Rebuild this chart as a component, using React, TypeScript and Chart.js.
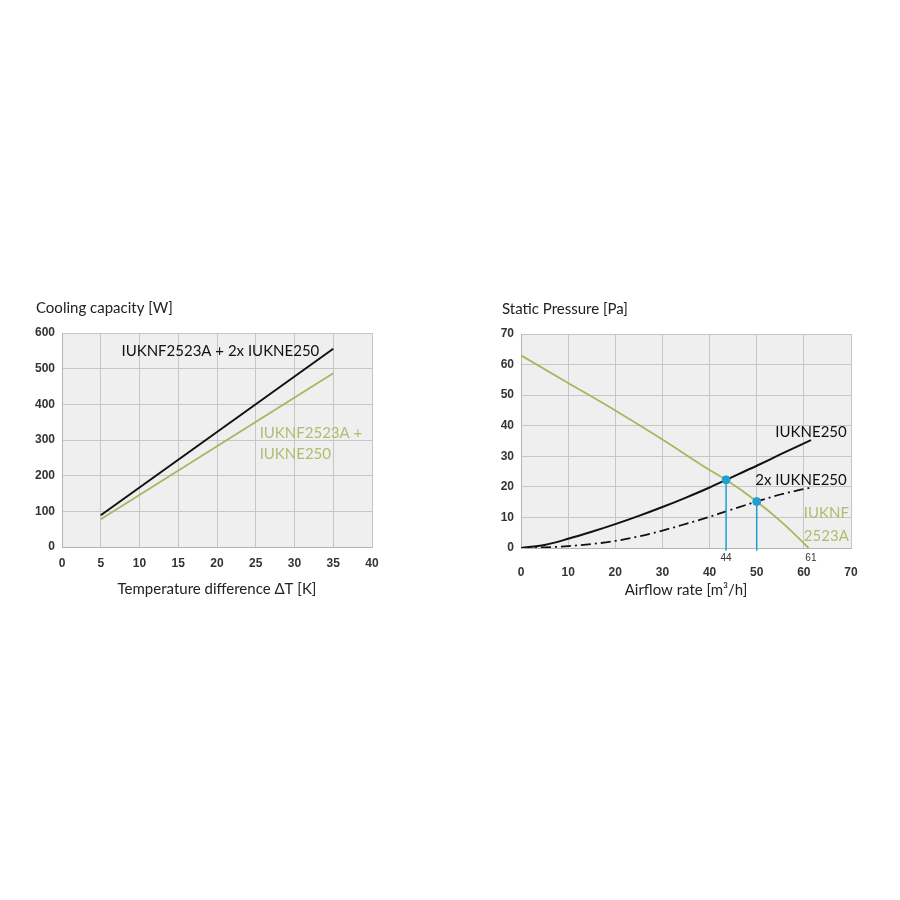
import React, { useEffect, useRef } from 'react';
import { Chart, registerables } from 'chart.js';

Chart.register(...registerables);

// ---------- styling constants ----------
const TICK_FONT = '"Liberation Sans", Arial, sans-serif';
const TEXT_FONT = 'Lato, "Noto Sans", sans-serif';
const GREEN = '#abb55e';
const GREEN_TEXT = '#b3bb70';
const CYAN = '#1f9fd2';
const GRID = '#c6c6c6';
const PLOT_BG = '#efefef';

// ---------- chart 1 : cooling capacity ----------
const deltaT = [5, 35];
const capacity2xFans = [89, 556];
const capacity1xFan = [78, 487];
const deltaTTicks = [0, 5, 10, 15, 20, 25, 30, 35, 40];
const capacityTicks = [0, 100, 200, 300, 400, 500, 600];

// ---------- chart 2 : static pressure ----------
const fanCurveX = [0, 10, 20, 30, 40, 43.5, 50, 56, 61];
const fanCurveY = [63, 54, 45, 35.5, 25.5, 22.3, 15.2, 7.5, 0];
const systemX = [0, 5, 10, 15, 20, 25, 30, 35, 40, 43.5, 50, 55, 61.5];
const system1Y = [0, 1.0, 3.0, 5.3, 7.8, 10.5, 13.4, 16.5, 19.8, 22.3, 26.9, 30.6, 35.3];
const system2Y = [0, 0.2, 0.6, 1.3, 2.3, 3.8, 5.7, 7.9, 10.2, 12.0, 15.2, 17.5, 19.8];
const opPointX = [43.5, 50];
const opPointY = [22.3, 15.2];
const opPointLabelX = [43.5, 61.5];
const opPointLabels = ['44', '61'];
const airflowTicks = [0, 10, 20, 30, 40, 50, 60, 70];
const pressureTicks = [0, 10, 20, 30, 40, 50, 60, 70];

const pts = (xs: number[], ys: number[]) => xs.map((x, i) => ({ x, y: ys[i] }));

type Label = { lines: string[]; x: number; y: number; align: CanvasTextAlign; color: string; lh?: number };

const coolingLabels: Label[] = [
  { lines: ['IUKNF2523A + 2x IUKNE250'], x: 33.2, y: 548, align: 'right', color: '#111' },
  { lines: ['IUKNF2523A +', 'IUKNE250'], x: 25.5, y: 320, align: 'left', color: GREEN_TEXT, lh: 21 },
];
const pressureLabels: Label[] = [
  { lines: ['IUKNE250'], x: 69.1, y: 37.8, align: 'right', color: '#111' },
  { lines: ['2x IUKNE250'], x: 69.1, y: 22.3, align: 'right', color: '#111' },
  { lines: ['IUKNF', '2523A'], x: 60.0, y: 11.5, align: 'left', color: GREEN_TEXT, lh: 23.7 },
];

const bgPlugin = {
  id: 'plotBg',
  beforeDraw(chart: any) {
    const { ctx, chartArea: a } = chart;
    ctx.save();
    ctx.fillStyle = PLOT_BG;
    ctx.fillRect(a.left, a.top, a.right - a.left, a.bottom - a.top);
    ctx.restore();
  },
};

function textPlugin(title: string, titleOffset: number, xTitle: string, labels: Label[], extra?: (chart: any) => void) {
  return {
    id: 'texts',
    afterDraw(chart: any) {
      const { ctx, chartArea: a, scales } = chart;
      ctx.save();
      ctx.textBaseline = 'middle';
      ctx.font = `15px ${TEXT_FONT}`;
      ctx.fillStyle = '#222';
      ctx.textAlign = 'left';
      ctx.fillText(title, a.left - titleOffset, a.top - 25);
      ctx.textAlign = 'center';
      ctx.fillText(xTitle, (a.left + a.right) / 2, a.bottom + 42);
      ctx.font = `15px ${TEXT_FONT}`;
      labels.forEach((l) => {
        const px = scales.x.getPixelForValue(l.x);
        const py = scales.y.getPixelForValue(l.y);
        ctx.fillStyle = l.color;
        ctx.textAlign = l.align;
        l.lines.forEach((t, i) => ctx.fillText(t, px, py + i * (l.lh || 20)));
      });
      if (extra) extra(chart);
      ctx.restore();
    },
  };
}

function axis(min: number, max: number, ticks: number[], fitKey: 'width' | 'height', fitVal: number, pad: number) {
  return {
    type: 'linear' as const,
    min,
    max,
    afterBuildTicks: (s: any) => {
      s.ticks = ticks.map((v) => ({ value: v }));
    },
    afterFit: (s: any) => {
      s[fitKey] = fitVal;
    },
    grid: { color: GRID, drawTicks: false, lineWidth: 1 },
    border: { color: '#b5b5b5' },
    ticks: {
      padding: pad,
      color: '#333',
      autoSkip: false,
      maxRotation: 0,
      font: { family: TICK_FONT, size: 12, weight: 'bold' as const },
    },
  };
}

function coolingConfig(): any {
  return {
    type: 'line',
    data: {
      datasets: [
        { data: pts(deltaT, capacity2xFans), borderColor: '#111', borderWidth: 2, pointRadius: 0 },
        { data: pts(deltaT, capacity1xFan), borderColor: GREEN, borderWidth: 1.8, pointRadius: 0 },
      ],
    },
    options: {
      responsive: false,
      animation: false,
      layout: { padding: { left: 0, top: 333, right: 78, bottom: 900 - 547 - 30 } },
      plugins: { legend: { display: false }, tooltip: { enabled: false } },
      scales: {
        x: axis(0, 40, deltaTTicks, 'height', 30, 9),
        y: axis(0, 600, capacityTicks, 'width', 62, 7),
      },
    },
    plugins: [bgPlugin, textPlugin('Cooling capacity [W]', 26, 'Temperature difference \u0394T [K]', coolingLabels)],
  };
}

function pressureConfig(): any {
  const drawOpLabels = (chart: any) => {
    const { ctx, chartArea: a, scales } = chart;
    ctx.font = `10px ${TICK_FONT}`;
    ctx.fillStyle = '#333';
    ctx.textAlign = 'center';
    opPointLabelX.forEach((v, i) => ctx.fillText(opPointLabels[i], scales.x.getPixelForValue(v), a.bottom + 10));
  };
  return {
    type: 'line',
    data: {
      datasets: [
        {
          type: 'scatter',
          data: pts(opPointX, opPointY),
          pointRadius: 4,
          pointBackgroundColor: CYAN,
          pointBorderColor: CYAN,
          showLine: false,
        },
        { data: pts([opPointX[0], opPointX[0]], [opPointY[0], -0.9]), borderColor: CYAN, borderWidth: 1.5, pointRadius: 0, clip: false },
        { data: pts([opPointX[1], opPointX[1]], [opPointY[1], -0.9]), borderColor: CYAN, borderWidth: 1.5, pointRadius: 0, clip: false },
        { data: pts(systemX, system1Y), borderColor: '#111', borderWidth: 2, pointRadius: 0, cubicInterpolationMode: 'monotone' },
        {
          data: pts(systemX, system2Y),
          borderColor: '#111',
          borderWidth: 1.8,
          borderDash: [10, 4, 2, 4],
          pointRadius: 0,
          cubicInterpolationMode: 'monotone',
        },
        { data: pts(fanCurveX, fanCurveY), borderColor: GREEN, borderWidth: 1.8, pointRadius: 0, cubicInterpolationMode: 'monotone' },
      ],
    },
    options: {
      responsive: false,
      animation: false,
      layout: { padding: { left: 0, top: 334, right: 49, bottom: 900 - 548 - 40 } },
      plugins: { legend: { display: false }, tooltip: { enabled: false } },
      scales: {
        x: axis(0, 70, airflowTicks, 'height', 40, 17),
        y: axis(0, 70, pressureTicks, 'width', 71, 7),
      },
    },
    plugins: [bgPlugin, textPlugin('Static Pressure [Pa]', 19, 'Airflow rate [m\u00b3/h]', pressureLabels, drawOpLabels)],
  };
}

function ChartBox({ left, make }: { left: number; make: () => any }) {
  const ref = useRef<HTMLCanvasElement | null>(null);
  useEffect(() => {
    const c = new Chart(ref.current as HTMLCanvasElement, make());
    return () => c.destroy();
  }, []);
  return (
    <div style={{ position: 'absolute', left, top: 0, width: 450, height: 900 }}>
      <canvas ref={ref} width={450} height={900} style={{ display: 'block' }} />
    </div>
  );
}

export default function App() {
  return (
    <div style={{ position: 'fixed', left: 0, top: 0, width: 900, height: 900, background: '#fff' }}>
      <ChartBox left={0} make={coolingConfig} />
      <ChartBox left={450} make={pressureConfig} />
    </div>
  );
}
